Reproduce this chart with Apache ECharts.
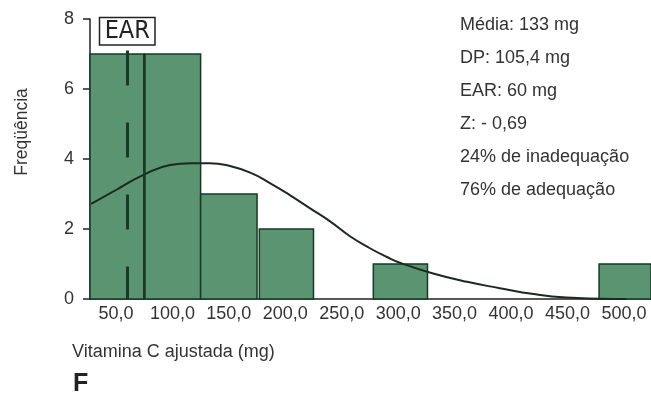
<!DOCTYPE html>
<html>
<head>
<meta charset="utf-8">
<script src="https://cdn.jsdelivr.net/npm/echarts@6/dist/echarts.min.js"></script>
<style>
  html, body { margin: 0; padding: 0; background: #ffffff; }
  #chart { width: 651px; height: 400px; }
</style>
</head>
<body>
<div id="chart"></div>
<script>
// Histogram bins: [start mg, end mg, frequency]
const binStart = [25, 75, 125, 177, 278, 478];
const binEnd   = [75, 125, 175, 225, 326, 526];
const binCount = [7, 7, 3, 2, 1, 1];

// Fitted distribution curve: x (mg) and height (frequency scale)
const curveX = [28, 52, 74, 98, 116, 133, 151, 169, 186, 204, 222, 240, 257, 275, 290, 302, 331, 361, 390, 420, 449, 479, 502];
const curveY = [2.72, 3.15, 3.54, 3.83, 3.88, 3.88, 3.80, 3.61, 3.32, 2.97, 2.59, 2.21, 1.80, 1.45, 1.20, 1.03, 0.73, 0.49, 0.31, 0.14, 0.04, 0.01, 0.0];

// Axis ticks
const xTicks = [50, 100, 150, 200, 250, 300, 350, 400, 450, 500];
const yTicks = [0, 2, 4, 6, 8];

// Reference values
const earValue = 60;
const binEdge = 75;
const statsLines = [
  'Média: 133 mg',
  'DP: 105,4 mg',
  'EAR: 60 mg',
  'Z: - 0,69',
  '24% de inadequação',
  '76% de adequação'
];

const FONT = '"Liberation Sans", Arial, sans-serif';
const DARK = '#163a24';
const TEXT = '#333333';

const barData = binStart.map((s, i) => [s, binEnd[i], binCount[i]]);
const curveData = curveX.map((x, i) => [x, curveY[i]]);

const chart = echarts.init(document.getElementById('chart'), null, { renderer: 'canvas' });

chart.setOption({
  backgroundColor: '#ffffff',
  animation: false,
  grid: { left: 90, right: 0, top: 19, bottom: 101 },
  xAxis: {
    type: 'value',
    min: 27,
    max: 524,
    splitLine: { show: false },
    axisLine: { show: true, onZero: false, lineStyle: { color: '#222', width: 1.5 } },
    axisTick: { show: false },
    axisLabel: {
      customValues: xTicks,
      margin: 6,
      fontFamily: FONT,
      fontSize: 18,
      color: TEXT,
      formatter: v => v.toFixed(1).replace('.', ',')
    }
  },
  yAxis: {
    type: 'value',
    min: yTicks[0],
    max: yTicks[yTicks.length - 1],
    interval: 2,
    splitLine: { show: false },
    axisLine: { show: true, lineStyle: { color: '#222', width: 1.5 } },
    axisTick: { show: true, inside: false, length: 7, lineStyle: { color: '#222', width: 1.5 } },
    axisLabel: {
      margin: 16,
      fontFamily: FONT,
      fontSize: 18,
      color: TEXT
    }
  },
  series: [
    {
      type: 'custom',
      z: 2,
      data: barData,
      renderItem: function (params, api) {
        const x0 = api.value(0), x1 = api.value(1), c = api.value(2);
        const p0 = api.coord([x0, c]);
        const p1 = api.coord([x1, 0]);
        const rect = echarts.graphic.clipRectByRect(
          { x: p0[0], y: p0[1], width: p1[0] - p0[0], height: p1[1] - p0[1] },
          { x: params.coordSys.x, y: params.coordSys.y, width: params.coordSys.width, height: params.coordSys.height + 2 }
        );
        if (!rect) return;
        return {
          type: 'rect',
          shape: rect,
          style: { fill: '#5b9470', stroke: DARK, lineWidth: 1.5 }
        };
      }
    },
    {
      type: 'line',
      z: 3,
      data: curveData,
      smooth: 0.5,
      symbol: 'none',
      lineStyle: { color: '#1b2a21', width: 2 },
      markLine: {
        silent: true,
        symbol: ['none', 'none'],
        label: { show: false },
        data: [
          [
            { coord: [earValue, 7.1], lineStyle: { type: [35, 37], width: 3, color: DARK } },
            { coord: [earValue, 0] }
          ],
          [
            { coord: [binEdge, 7], lineStyle: { type: 'solid', width: 2.5, color: DARK } },
            { coord: [binEdge, 0] }
          ]
        ]
      },
      markPoint: {
        silent: true,
        symbol: 'rect',
        symbolSize: 0,
        data: [{ coord: [earValue, 7.65] }],
        label: {
          show: true,
          position: 'inside',
          formatter: 'EAR',
          fontFamily: '"Liberation Sans Narrow", "DejaVu Sans Condensed", sans-serif',
          fontSize: 25,
          color: '#222',
          width: 48,
          height: 24,
          lineHeight: 26,
          align: 'center',
          padding: [2, 3, 0, 3],
          borderColor: '#222',
          borderWidth: 1.5,
          backgroundColor: '#ffffff'
        }
      }
    }
  ],
  graphic: [
    {
      type: 'text',
      left: 460,
      top: 9,
      style: {
        text: statsLines.join('\n'),
        fontFamily: FONT,
        fontSize: 18,
        lineHeight: 33,
        fill: TEXT
      }
    },
    {
      type: 'text',
      x: 22,
      y: 132,
      rotation: Math.PI / 2,
      style: {
        text: 'Freqüência',
        fontFamily: FONT,
        fontSize: 17.5,
        fill: TEXT,
        align: 'center',
        verticalAlign: 'middle'
      }
    },
    {
      type: 'text',
      x: 72,
      y: 352,
      style: {
        text: 'Vitamina C ajustada (mg)',
        fontFamily: FONT,
        fontSize: 18,
        fill: TEXT,
        verticalAlign: 'middle'
      }
    },
    {
      type: 'text',
      x: 73,
      y: 384,
      style: {
        text: 'F',
        fontFamily: FONT,
        fontSize: 25,
        fontWeight: 'bold',
        fill: '#222',
        verticalAlign: 'middle'
      }
    }
  ]
});
</script>
</body>
</html>
